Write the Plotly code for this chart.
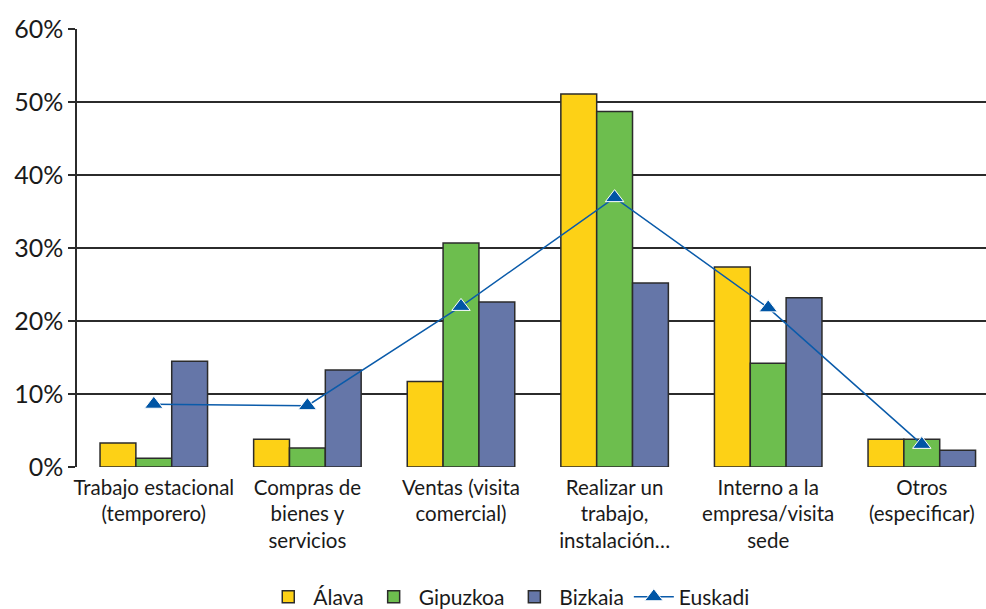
import plotly.graph_objects as go

categories = [
    "Trabajo estacional<br>(temporero)",
    "Compras de<br>bienes y<br>servicios",
    "Ventas (visita<br>comercial)",
    "Realizar un<br>trabajo,<br>instalación…",
    "Interno a la<br>empresa/visita<br>sede",
    "Otros<br>(especificar)",
]
alava = [3.3, 3.8, 11.7, 51.1, 27.4, 3.8]
gipuzkoa = [1.2, 2.6, 30.7, 48.7, 14.2, 3.8]
bizkaia = [14.5, 13.3, 22.6, 25.2, 23.2, 2.3]
euskadi = [8.6, 8.4, 22.0, 36.9, 21.8, 3.1]
y_ticks = [0, 10, 20, 30, 40, 50, 60]
y_tick_labels = [f"{v}%" for v in y_ticks]

FONT = "Lato"
edge = "#2b2b2b"

fig = go.Figure()
for name, vals, color in [
    ("Álava", alava, "#FDD116"),
    ("Gipuzkoa", gipuzkoa, "#6DBE4E"),
    ("Bizkaia", bizkaia, "#6576A8"),
]:
    fig.add_trace(go.Bar(
        x=categories, y=vals, name=name,
        marker=dict(color=color, line=dict(color=edge, width=1.5)),
    ))

fig.add_trace(go.Scatter(
    x=categories, y=euskadi, name="Euskadi", mode="lines+markers",
    line=dict(color="#0A5BAA", width=1.5),
    marker=dict(symbol="triangle-up", size=16, color="#0055A5",
                line=dict(color="white", width=1)),
))

fig.update_layout(
    width=986, height=609,
    margin=dict(l=77, r=0, t=29, b=142, autoexpand=False),
    paper_bgcolor="white", plot_bgcolor="white",
    barmode="group", bargap=0.3, bargroupgap=0,
    font=dict(family=FONT, color="#1a1a1a"),
    showlegend=True,
    legend=dict(orientation="h", x=0.475, xanchor="center", y=-0.297,
                yanchor="middle", font=dict(size=21, family=FONT),
                itemwidth=40, tracegroupgap=0),
)
fig.update_xaxes(
    type="category", range=[-0.5, 5.418],
    showgrid=False, showline=False, ticks="",
    ticklabelstandoff=6,
    tickfont=dict(size=20.5, family=FONT, color="#1a1a1a"),
)
fig.update_yaxes(
    range=[0, 60], tickmode="array", tickvals=y_ticks, ticktext=y_tick_labels,
    showgrid=True, gridcolor=edge, gridwidth=1.5,
    showline=True, linecolor=edge, linewidth=1.5,
    ticks="outside", ticklen=7, tickcolor=edge, tickwidth=1.5,
    zeroline=False,
    tickfont=dict(size=25, family=FONT, color="#1a1a1a"),
)

fig.write_html("out.html")
